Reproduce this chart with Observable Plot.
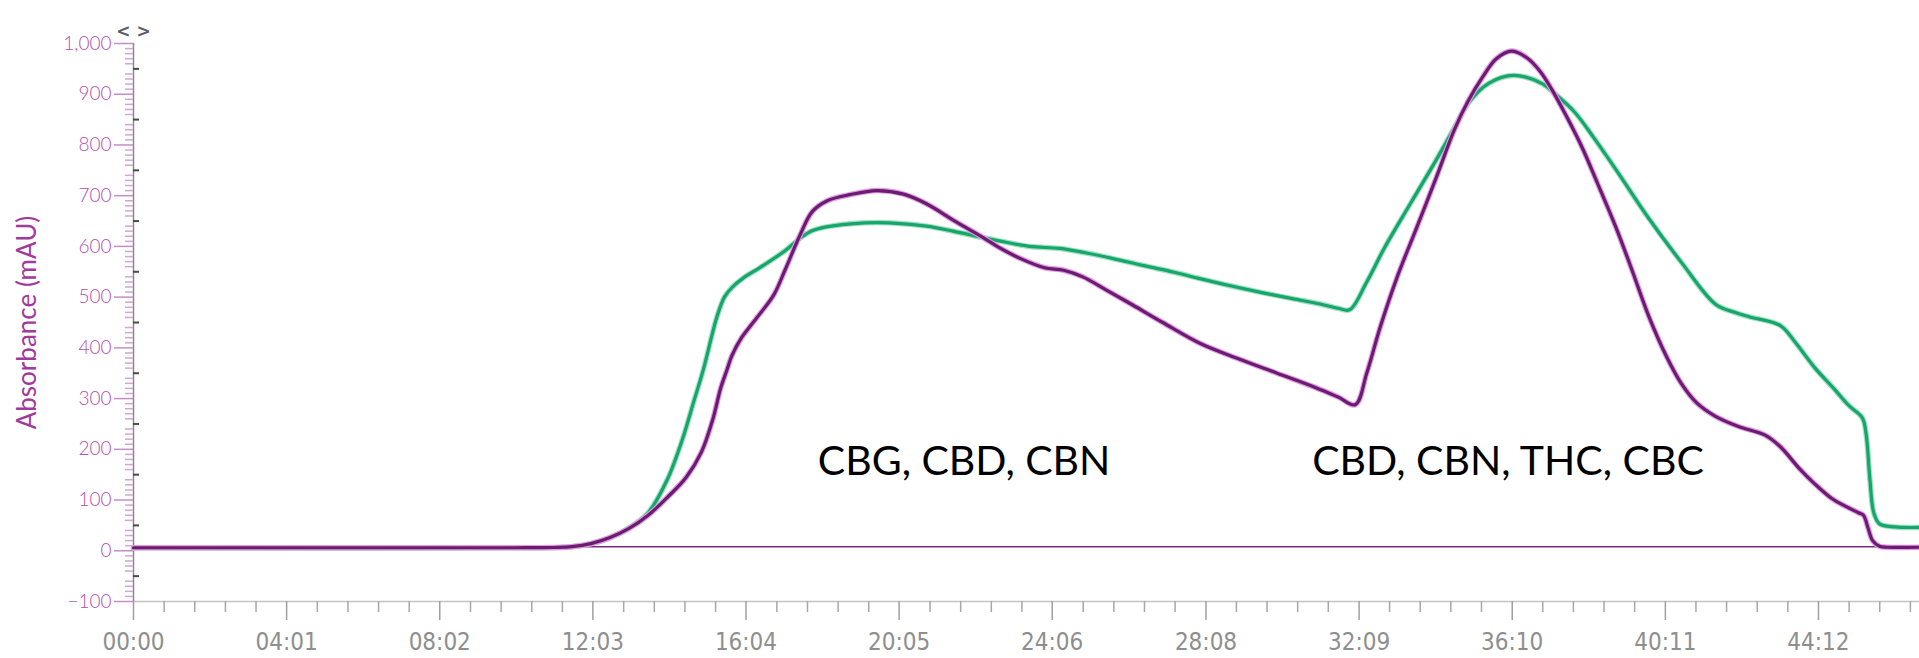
<!DOCTYPE html>
<html>
<head>
<meta charset="utf-8">
<script src="https://cdn.jsdelivr.net/npm/d3@7"></script>
<script src="https://cdn.jsdelivr.net/npm/@observablehq/plot@0.6"></script>
<style>
  html, body { margin: 0; padding: 0; background: #ffffff; }
  #chart svg { display: block; overflow: visible; }
</style>
</head>
<body>
<div id="chart"></div>
<script>
// ---- data (time in minutes, absorbance in mAU) ----
const xTickLabels = ["00:00","04:01","08:02","12:03","16:04","20:05","24:06","28:08","32:09","36:10","40:11","44:12"];
const yTickValues = [-100,0,100,200,300,400,500,600,700,800,900,1000];
const xDomainEnd = 46.85;

const purpleTime = [0,5,10,11,11.5,12,12.5,13,13.5,14,14.5,14.9,15.2,15.4,15.56,15.7,15.95,16.2,16.43,16.8,17.1,17.5,17.8,18.2,18.8,19.5,20.2,20.8,21.5,22.3,22.7,23.3,23.9,24.4,24.9,25.5,26.2,27.0,28.0,29.0,30.0,31.0,31.6,32.05,32.35,32.7,33.15,33.65,34.17,34.65,35.0,35.4,35.75,36.15,36.55,36.9,37.2,37.6,38.0,38.4,38.9,39.3,39.75,40.2,40.6,41.0,41.5,42.1,42.8,43.2,43.7,44.1,44.55,44.9,45.25,45.38,45.5,45.62,45.8,46.0,46.85];
const purpleValue = [6,6,6,6.5,8,14,26,44,70,105,145,195,260,320,355,385,420,445,467,505,555,625,668,690,702,710,703,684,652,617,598,575,558,553,540,515,485,450,408,378,350,322,303,288,350,440,540,635,735,830,885,935,970,985,972,945,910,855,795,725,635,555,462,385,330,292,265,245,228,205,162,132,103,88,75,70,45,20,9,7,7];

const greenTime = [0,11,11.5,12,12.5,13,13.5,14.0,14.4,14.7,14.94,15.3,15.5,15.7,16.0,16.43,17.1,17.5,17.8,18.3,19.5,20.8,21.5,22.3,22.7,23.5,24.3,25.0,25.7,26.5,27.3,28.0,28.8,29.6,30.4,31.1,31.6,31.9,32.35,32.8,33.5,34.17,34.65,35.04,35.56,36.2,36.95,37.3,37.8,38.3,38.9,39.75,40.6,41.5,42.0,42.4,43.2,43.6,44.1,44.6,45.0,45.35,45.45,45.55,45.65,45.8,46.2,46.85];
const greenValue = [6,6,8,14,26,45,75,140,220,295,355,460,500,519,538,558,592,617,631,640,647,640,630,617,611,600,596,587,576,562,549,536,522,509,497,487,478,475,530,595,685,770,834,885,922,937,921,900,865,815,750,655,569,486,470,461,444,410,361,320,286,262,230,140,75,53,47,46];

const baselineLevel = [8];
const annotationLabels = ["CBG, CBD, CBN", "CBD, CBN, THC, CBC"];
const annotationTime = [17.95, 30.92];
const annotationValue = [176, 176];

// ---- derived tables ----
const purple = purpleTime.map((t, i) => ({t, v: purpleValue[i]}));
const green = greenTime.map((t, i) => ({t, v: greenValue[i]}));
const annotations = annotationLabels.map((label, i) => ({label, t: annotationTime[i], v: annotationValue[i]}));

const parseMMSS = s => { const [m, sec] = s.split(":").map(Number); return m + sec / 60; };
const xMajor = xTickLabels.map(parseMMSS);
const labelOf = new Map(xMajor.map((v, i) => [v, xTickLabels[i]]));
const xStep = (xMajor[xMajor.length - 1] - xMajor[0]) / (xMajor.length - 1) / 5;
const xMinor = [];
for (let k = 0; xMajor[0] + k * xStep <= xDomainEnd; k++) if (k % 5 !== 0) xMinor.push(xMajor[0] + k * xStep);

const yMinor = d3.range(-100, 1001, 10).filter(v => v % 50 !== 0);
const yMid = d3.range(-50, 1000, 100);

const chart = Plot.plot({
  width: 1919,
  height: 658,
  marginLeft: 133,
  marginRight: 0,
  marginTop: 43,
  marginBottom: 57,
  style: {background: "#ffffff", overflow: "visible"},
  x: {domain: [0, xDomainEnd], axis: null},
  y: {domain: [-100, 1000], axis: null},
  marks: [
    // x axis line
    Plot.ruleY([-100], {stroke: "#c4c4c4", strokeWidth: 1.5}),
    // x minor ticks
    Plot.axisX(xMinor, {anchor: "bottom", tickSize: 11, tickFormat: () => "", stroke: "#a8a8a8", strokeWidth: 1.5, label: null}),
    // x major ticks + labels
    Plot.axisX(xMajor, {anchor: "bottom", tickSize: 19, tickPadding: 12, tickFormat: d => labelOf.get(d), stroke: "#a0a0a0", strokeWidth: 1.5, fill: "#8e8e8e", fontSize: 24, fontFamily: "'Liberation Sans Narrow', 'DejaVu Sans Condensed', sans-serif", label: null}),
    // y axis ruler
    Plot.ruleX([0], {stroke: "#8a8a8a", strokeWidth: 1.5}),
    Plot.axisY(yMinor, {anchor: "left", tickSize: 8, tickFormat: () => "", stroke: "#d2a6d2", strokeWidth: 1.5, label: null}),
    Plot.axisY(yMid, {anchor: "left", tickSize: 6, dx: 6, tickFormat: () => "", stroke: "#4a4a4a", strokeWidth: 2, label: null}),
    Plot.axisY(yTickValues, {anchor: "left", tickSize: 19, tickPadding: 3, tickFormat: d3.format(","), stroke: "#c88cc8", strokeWidth: 1.5, fill: "#b04fb0", fontSize: 19, fontFamily: "Lato, sans-serif", fontWeight: 300,
      label: "Absorbance (mAU)", labelAnchor: "center", labelOffset: 116, labelArrow: "none"}),
    Plot.text(["< >"], {frameAnchor: "top-left", dy: -19, textAnchor: "middle", fontSize: 17, fontWeight: "bold", fill: "#5a5a6a", fontFamily: "DejaVu Sans, sans-serif"}),
    // baseline reference
    Plot.ruleY(baselineLevel, {stroke: "#7b2a82", strokeWidth: 1.6}),
    // traces
    Plot.line(green, {x: "t", y: "v", stroke: "#9fe0c2", strokeWidth: 5.5, curve: "catmull-rom"}),
    Plot.line(green, {x: "t", y: "v", stroke: "#17a56c", strokeWidth: 3.2, curve: "catmull-rom"}),
    Plot.line(purple, {x: "t", y: "v", stroke: "#e39ae3", strokeWidth: 5.5, curve: "catmull-rom"}),
    Plot.line(purple, {x: "t", y: "v", stroke: "#6a1c70", strokeWidth: 3.2, curve: "catmull-rom"}),
    // annotations
    Plot.text(annotations, {x: "t", y: "v", text: "label", textAnchor: "start", fontSize: 41, fontFamily: "Lato, sans-serif", fill: "#000000"})
  ]
});

// style y-axis label
chart.querySelectorAll("text").forEach(t => {
  if (t.textContent === "Absorbance (mAU)") { t.setAttribute("fill", "#a03a9c"); t.setAttribute("font-size", "26"); t.setAttribute("font-weight", "400"); }
});
document.getElementById("chart").appendChild(chart);
</script>
</body>
</html>
